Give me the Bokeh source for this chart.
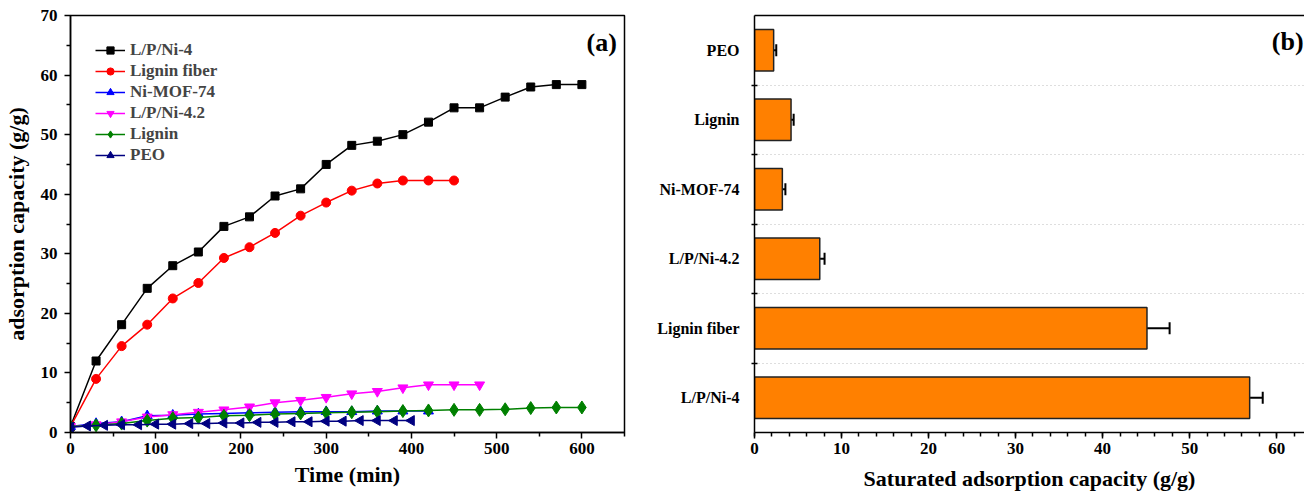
import math
from bokeh.plotting import figure
from bokeh.models import (Range1d, FixedTicker, Label, Whisker, ColumnDataSource,
                          LinearAxis, TeeHead)
from bokeh.layouts import row
from bokeh.embed import file_html
from bokeh.resources import INLINE

# ---------------- data: panel (a) ----------------
t_lpni4 = [0, 30, 60, 90, 120, 150, 180, 210, 240, 270, 300, 330, 360, 390, 420, 450, 480, 510, 540, 570, 600]
lpni4 = [1.0, 12.0, 18.1, 24.2, 28.0, 30.3, 34.6, 36.2, 39.7, 40.9, 45.0, 48.2, 48.9, 50.0, 52.1, 54.5, 54.5, 56.3, 58.0, 58.4, 58.4]

t_fiber = [0, 30, 60, 90, 120, 150, 180, 210, 240, 270, 300, 330, 360, 390, 420, 450]
fiber = [1.0, 9.0, 14.5, 18.1, 22.5, 25.1, 29.3, 31.1, 33.5, 36.4, 38.6, 40.6, 41.8, 42.3, 42.3, 42.3]

t_mof = [0, 30, 60, 90, 120, 150, 180, 210, 240, 270, 300, 330, 360, 390, 420]
mof = [1.0, 1.5, 1.8, 2.8, 2.9, 3.1, 3.2, 3.3, 3.4, 3.5, 3.5, 3.5, 3.6, 3.6, 3.6]

t_lpni42 = [0, 30, 60, 90, 120, 150, 180, 210, 240, 270, 300, 330, 360, 390, 420, 450, 480]
lpni42 = [1.0, 1.3, 1.8, 2.6, 3.0, 3.4, 3.8, 4.3, 5.0, 5.4, 5.9, 6.5, 6.9, 7.5, 8.0, 8.0, 8.0]

t_lignin = [0, 30, 60, 90, 120, 150, 180, 210, 240, 270, 300, 330, 360, 390, 420, 450, 480, 510, 540, 570, 600]
lignin = [1.0, 1.2, 1.5, 2.0, 2.4, 2.5, 2.8, 2.9, 3.1, 3.2, 3.3, 3.4, 3.5, 3.6, 3.7, 3.8, 3.8, 3.9, 4.1, 4.2, 4.2]

t_peo = [0, 20, 40, 60, 80, 100, 120, 140, 160, 180, 200, 220, 240, 260, 280, 300, 320, 340, 360, 380, 400]
peo = [0.9, 1.1, 1.2, 1.3, 1.3, 1.4, 1.4, 1.5, 1.5, 1.6, 1.6, 1.7, 1.7, 1.8, 1.8, 1.9, 1.9, 2.0, 2.0, 2.0, 2.0]

# ---------------- data: panel (b) ----------------
bar_names = ["L/P/Ni-4", "Lignin fiber", "L/P/Ni-4.2", "Ni-MOF-74", "Lignin", "PEO"]
bar_values = [56.9, 45.1, 7.5, 3.2, 4.2, 2.2]
bar_errors = [1.5, 2.6, 0.55, 0.35, 0.3, 0.3]

SERIF = "Liberation Serif"

def style_axis(ax, label_size="17px"):
    ax.axis_line_color = "black"
    ax.axis_line_width = 1.5
    ax.major_tick_line_color = "black"
    ax.major_tick_line_width = 1.5
    ax.minor_tick_line_color = "black"
    ax.minor_tick_line_width = 1.5
    ax.major_label_text_font = SERIF
    ax.major_label_text_font_style = "bold"
    ax.major_label_text_font_size = label_size
    ax.major_label_text_color = "black"
    ax.axis_label_text_font = SERIF
    ax.axis_label_text_font_style = "bold"
    ax.axis_label_text_font_size = "22px"
    ax.axis_label_text_color = "black"

# ---------------- panel (a) ----------------
pa = figure(width=650, height=494, output_backend="svg", toolbar_location=None,
            x_range=Range1d(0, 650), y_range=Range1d(0, 70),
            min_border_left=69, min_border_right=26, min_border_top=15, min_border_bottom=62)
pa.xgrid.visible = False
pa.ygrid.visible = False
pa.outline_line_color = "black"
pa.outline_line_width = 1.5
pa.outline_line_alpha = 1.0

pa.xaxis.ticker = FixedTicker(ticks=[0, 100, 200, 300, 400, 500, 600],
                              minor_ticks=[50, 150, 250, 350, 450, 550, 650])
pa.yaxis.ticker = FixedTicker(ticks=[0, 10, 20, 30, 40, 50, 60, 70],
                              minor_ticks=[5, 15, 25, 35, 45, 55, 65])
for ax in (pa.xaxis[0], pa.yaxis[0]):
    style_axis(ax)
    ax.major_tick_in = 0
    ax.major_tick_out = 6
    ax.minor_tick_in = 0
    ax.minor_tick_out = 4
pa.xaxis.axis_label = "Time (min)"
pa.yaxis.axis_label = "adsorption capacity (g/g)"
pa.xaxis.major_label_standoff = 4
pa.xaxis.axis_label_standoff = 5
pa.yaxis.major_label_standoff = 7
pa.yaxis.axis_label_standoff = 9

series = [
    ("L/P/Ni-4", t_lpni4, lpni4, "black", "square", 8, 0.0),
    ("Lignin fiber", t_fiber, fiber, "#ff0000", "circle", 9, 0.0),
    ("Ni-MOF-74", t_mof, mof, "#0000ff", "triangle", 10, 0.0),
    ("L/P/Ni-4.2", t_lpni42, lpni42, "#ff00ff", "inverted_triangle", 10, 0.0),
    ("Lignin", t_lignin, lignin, "#008000", "diamond", 13, 0.0),
    ("PEO", t_peo, peo, "#000080", "triangle", 10, math.pi / 2),
]
for name, tx, vy, col, mk, sz, ang in series:
    pa.line(tx, vy, line_color=col, line_width=1.5, legend_label=name)
    pa.scatter(tx, vy, marker=mk, size=sz, angle=ang, fill_color=col, line_color=col,
               legend_label=name)

lg = pa.legend[0]
lg.location = "top_left"
lg.margin = 25
lg.padding = 3
lg.border_line_color = None
lg.background_fill_alpha = 0
lg.label_text_font = SERIF
lg.label_text_font_style = "bold"
lg.label_text_font_size = "17px"
lg.glyph_width = 30
lg.glyph_height = 18
lg.label_height = 18
lg.spacing = 1
lg.label_standoff = 5

pa.add_layout(Label(x=641, y=65.4, text="(a)", text_font=SERIF, text_font_style="bold",
                    text_font_size="26px", text_align="right", text_baseline="middle",
                    text_color="black"))

# ---------------- panel (b) ----------------
nb = len(bar_names)
ypos = [i + 0.5 for i in range(nb)]
src = ColumnDataSource(dict(y=ypos, v=bar_values,
                            lo=[v - e for v, e in zip(bar_values, bar_errors)],
                            hi=[v + e for v, e in zip(bar_values, bar_errors)]))

pb = figure(width=654, height=494, output_backend="svg", toolbar_location=None,
            x_range=Range1d(0, 63.2), y_range=Range1d(0, nb),
            min_border_left=104, min_border_right=0, min_border_top=15, min_border_bottom=62)
pb.outline_line_color = None
pb.xgrid.visible = False
pb.ygrid.grid_line_color = None
pb.ygrid.minor_grid_line_color = "#bdbdbd"
pb.ygrid.minor_grid_line_dash = "1 3"
pb.ygrid.minor_grid_line_width = 1

pb.hbar(y="y", right="v", left=0, height=0.6, source=src,
        fill_color="#ff8000", line_color="#222222", line_width=1.5)
pb.add_layout(Whisker(source=src, base="y", lower="lo", upper="hi", dimension="width",
                      line_color="black", line_width=2,
                      lower_head=TeeHead(size=12, line_color="black", line_width=2),
                      upper_head=TeeHead(size=12, line_color="black", line_width=2)))

pb.xaxis.ticker = FixedTicker(ticks=[0, 10, 20, 30, 40, 50, 60],
                              minor_ticks=[i * 2 for i in range(33)])
pb.yaxis.ticker = FixedTicker(ticks=ypos, minor_ticks=list(range(1, nb)))
pb.yaxis.major_label_overrides = {y: n for y, n in zip(ypos, bar_names)}
for ax in (pb.xaxis[0], pb.yaxis[0]):
    style_axis(ax, "16px")
pb.xaxis.major_label_text_font_size = "17px"
pb.xaxis.major_tick_in = 0
pb.xaxis.major_tick_out = 6
pb.xaxis.minor_tick_in = 0
pb.xaxis.minor_tick_out = 4
pb.xaxis.major_label_standoff = 4
pb.xaxis.axis_label_standoff = 9
pb.xaxis.axis_label = "Saturated adsorption capacity (g/g)"
pb.yaxis.major_tick_line_color = None
pb.yaxis.minor_tick_in = 3
pb.yaxis.minor_tick_out = 3
pb.yaxis.major_label_standoff = 9

top_ax = LinearAxis(ticker=FixedTicker(ticks=[]), axis_line_color="black", axis_line_width=1.5,
                    major_tick_line_color=None, minor_tick_line_color=None,
                    major_label_standoff=0)
pb.add_layout(top_ax, "above")

pb.add_layout(Label(x=63.1, y=5.62, text="(b)", text_font=SERIF, text_font_style="bold",
                    text_font_size="26px", text_align="right", text_baseline="middle",
                    text_color="black"))

layout = row(pa, pb)
open("out.html", "w").write(file_html(layout, INLINE))
